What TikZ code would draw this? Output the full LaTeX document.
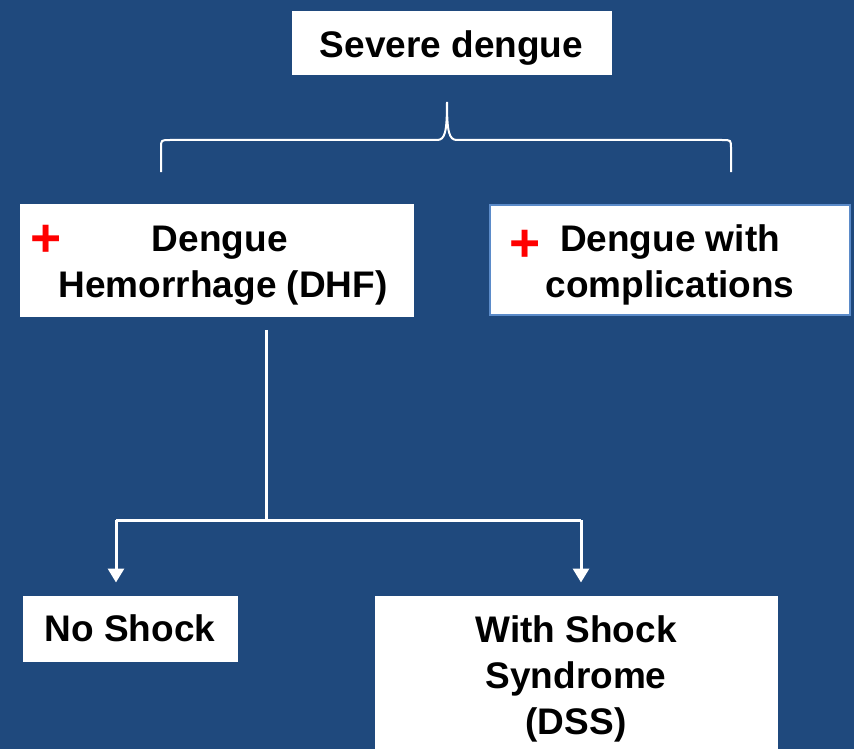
\documentclass[tikz,border=0pt]{standalone}
\usepackage{fontspec}
\setmainfont{Liberation Sans}
\usetikzlibrary{arrows.meta}

\definecolor{bgblue}{RGB}{31,73,125}
\definecolor{edgeblue}{RGB}{91,139,201}

\newcommand{\topgap}{\rule{0pt}{27.5pt}}

\tikzset{
  box/.style={draw=white, fill=white, line width=0.75pt, inner sep=0pt, align=center,
    font=\fontsize{27.75pt}{34.5pt}\selectfont\bfseries},
  plus/.style={text=red, inner sep=0pt, font=\fontsize{40pt}{40pt}\selectfont\bfseries},
  link/.style={draw=white, line width=2.25pt},
  arr/.style={link, -{Triangle[width=12pt, length=10.5pt]}},
}

\begin{document}
\begin{tikzpicture}[x=0.75pt,y=0.75pt,yscale=-1,xscale=1]
%background sets the whole canvas, 854 x 749
\path [fill=bgblue] (0,0) rectangle (854,749);
\useasboundingbox (0,0) rectangle (854,749);

\node [box, minimum width=319*0.75pt, minimum height=63*0.75pt] (severe) at (451.5,43.5) {\rule{0pt}{27pt}Severe dengue};

%brace under the top box
\draw [white, line width=1.5pt] (161,172) -- (161,148) .. controls (161,140) .. (170,140) -- (437,140)
  .. controls (445,140) and (447,132) .. (447,102) .. controls (447,132) and (449,140) .. (457,140)
  -- (722,140) .. controls (731,140) .. (731,148) -- (731,172) ;

\node [box, minimum width=393*0.75pt, minimum height=112*0.75pt] (dhf) at (216.5,260) {\topgap\hspace*{5pt}Dengue\\\hspace*{10pt}Hemorrhage (DHF)};
\node [plus] (plusdhf) at (46,241) {+};

\node [box, draw=edgeblue, line width=1.5pt, minimum width=360*0.75pt, minimum height=110*0.75pt] (compl) at (670,260) {\topgap Dengue with\\complications};
\node [plus] (pluscompl) at (525,246) {+};

\node [box, minimum width=214*0.75pt, minimum height=65*0.75pt] (noshock) at (130,628.5) {No Shock};
\node [box, minimum width=402*0.75pt, minimum height=156*0.75pt] (dss) at (576,674) {\topgap With Shock\\Syndrome\\(DSS)};

%split below the DHF box
\coordinate (split) at (266,520);
\coordinate (leftend) at (116,520);
\coordinate (rightend) at (581,520);

\draw [link] ([yshift=10]dhf.south -| split) -- (split);
\draw [link] (leftend) -- (rightend);
\draw [arr, shorten >=13*0.75pt] (leftend) -- (leftend |- noshock.north);
\draw [arr, shorten >=13*0.75pt] (rightend) -- (rightend |- dss.north);

\end{tikzpicture}
\end{document}
